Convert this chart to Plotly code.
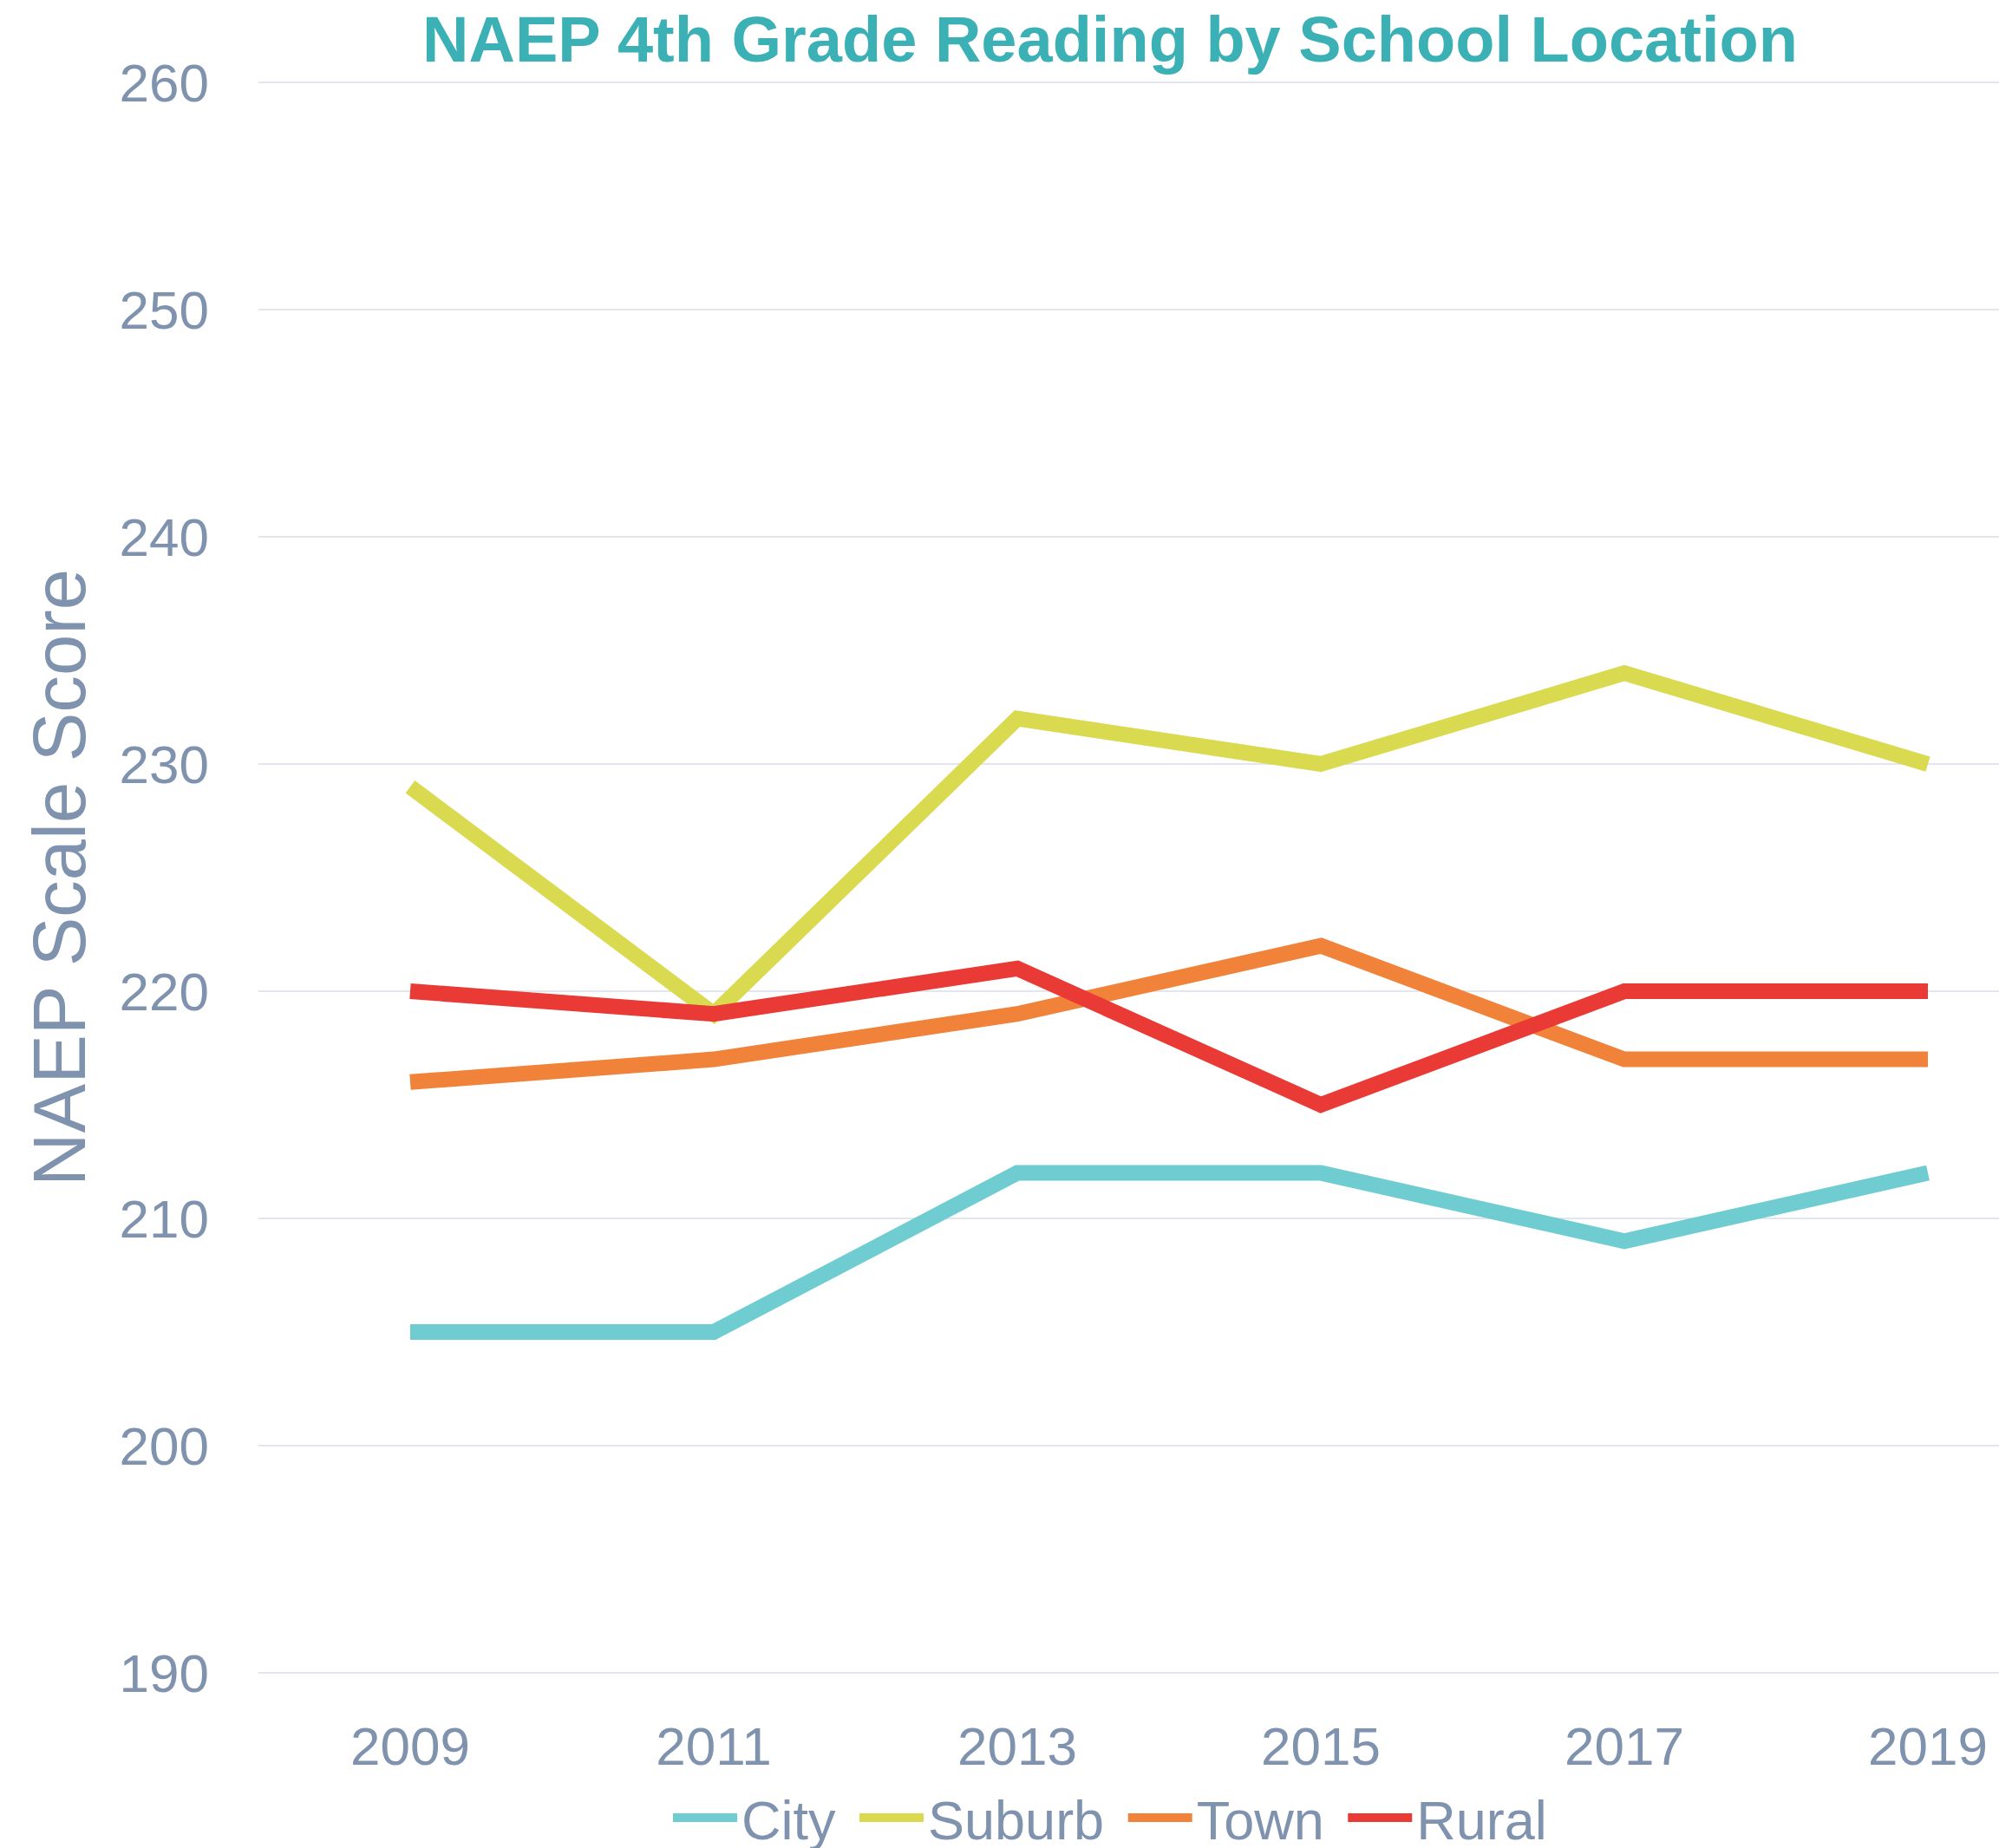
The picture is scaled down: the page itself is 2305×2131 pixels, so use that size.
import plotly.graph_objects as go

years = ["2009", "2011", "2013", "2015", "2017", "2019"]
city = [205, 205, 212, 212, 209, 212]
suburb = [229, 219, 232, 230, 234, 230]
town = [216, 217, 219, 222, 217, 217]
rural = [220, 219, 221, 215, 220, 220]

series_names = ["City", "Suburb", "Town", "Rural"]
series_values = [city, suburb, town, rural]
series_colors = ["#6fcdd1", "#d9da50", "#f0823a", "#e93a35"]

W, H = 2305, 2131
L, R, T, B = 298, 0, 94, 201
FONT = "Liberation Sans, Arial, sans-serif"
TXT = "#7f92ae"

fig = go.Figure()
for n, v, c in zip(series_names, series_values, series_colors):
    fig.add_trace(go.Scatter(x=years, y=v, name=n + "\u00a0", mode="lines",
                             line=dict(color=c, width=18), hoverinfo="skip"))

fig.update_layout(
    width=W, height=H,
    margin=dict(l=L, r=R, t=T, b=B, pad=0, autoexpand=False),
    paper_bgcolor="white", plot_bgcolor="white",
    font=dict(family=FONT, color=TXT, size=62),
    title=dict(text="<b>NAEP 4th Grade Reading by School Location</b>",
               font=dict(family=FONT, size=74, color="#3bb0b5"),
               x=1280 / W, xanchor="center", xref="container",
               y=1 - 45 / H, yanchor="middle", yref="container"),
    showlegend=True,
    legend=dict(orientation="h", x=(777 - 6) / W, xanchor="left", xref="container",
                y=1 - 2096 / H, yanchor="middle", yref="container",
                font=dict(family=FONT, size=63, color=TXT),
                bgcolor="rgba(0,0,0,0)", itemwidth=74, tracegroupgap=0),
    xaxis=dict(type="category", range=[-0.5, -0.5 + (W - L - R) / 350.0],
               showgrid=False, zeroline=False, showline=False, automargin=False,
               ticks="", tickfont=dict(size=62, color=TXT, family=FONT),
               ticklabelstandoff=42),
    yaxis=dict(range=[189.96, 260.04], tickvals=[190, 200, 210, 220, 230, 240, 250, 260],
               showgrid=True, gridcolor="#e3e7ed", gridwidth=2, automargin=False,
               zeroline=False, showline=False, ticks="",
               tickfont=dict(size=62, color=TXT, family=FONT),
               ticklabelstandoff=56,
               title=dict(text="NAEP Scale Score",
                          font=dict(size=85, color=TXT, family=FONT),
                          standoff=10)),
)

fig.write_html("out.html", config={"displayModeBar": False},
               post_script="document.body.style.margin='0';document.body.style.overflow='hidden';")
